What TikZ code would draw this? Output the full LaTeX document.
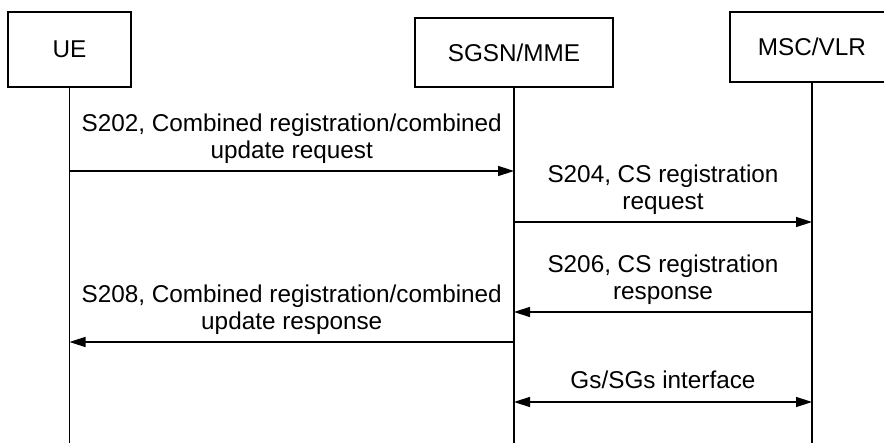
\documentclass[tikz,border=0pt]{standalone}
\usepackage{fontspec}
\setmainfont{Liberation Sans}
\usetikzlibrary{arrows.meta}
\begin{document}
\begin{tikzpicture}[x=1pt,y=-1pt,
  txt/.style={font=\fontsize{24.3}{27}\selectfont},
  ent/.style={draw, line width=1.3pt, inner sep=0pt, txt},
  life/.style={line width=1.3pt},
  msg/.style={line width=1.5pt, -{Triangle[length=16pt,width=10pt]}},
  bimsg/.style={line width=1.5pt, {Triangle[length=16pt,width=10pt]}-{Triangle[length=16pt,width=10pt]}},
  lbl/.style={txt, align=center, inner sep=0pt}]
\useasboundingbox (0,0) rectangle (884,443);
% entities
\node[ent, minimum width=123pt, minimum height=75pt] (ue) at (69.5,49.5) {UE};
\node[ent, minimum width=198pt, minimum height=69pt] (sg) at (514,52.5) {SGSN/MME};
\node[ent, minimum width=164pt, minimum height=70pt] (ms) at (812,47) {MSC/VLR};
% lifelines
\coordinate (ueEnd) at (ue.south |- 0,445);
\coordinate (sgEnd) at (sg.south |- 0,445);
\coordinate (msEnd) at (ms.south |- 0,445);
\draw[life] (ue.south) -- (ueEnd);
\draw[life] (sg.south) -- (sgEnd);
\draw[life] (ms.south) -- (msEnd);
% messages
\coordinate (a1) at (ue |- 0,171); \coordinate (b1) at (sg |- 0,171);
\draw[msg] (a1) -- node[lbl, above=7pt] (l1) {S202, Combined registration/combined\\update request} (b1);
\coordinate (a2) at (sg |- 0,222); \coordinate (b2) at (ms |- 0,222);
\draw[msg] (a2) -- node[lbl, above=7pt] (l2) {S204, CS registration\\request} (b2);
\coordinate (a3) at (ms |- 0,312); \coordinate (b3) at (sg |- 0,312);
\draw[msg] (a3) -- node[lbl, above=7pt] (l3) {S206, CS registration\\response} (b3);
\coordinate (a4) at (sg |- 0,342); \coordinate (b4) at (ue |- 0,342);
\draw[msg] (a4) -- node[lbl, above=7pt] (l4) {S208, Combined registration/combined\\update response} (b4);
\coordinate (a5) at (sg |- 0,402); \coordinate (b5) at (ms |- 0,402);
\draw[bimsg] (a5) -- node[lbl, above=13pt] (l5) {Gs/SGs interface} (b5);
\end{tikzpicture}
\end{document}
